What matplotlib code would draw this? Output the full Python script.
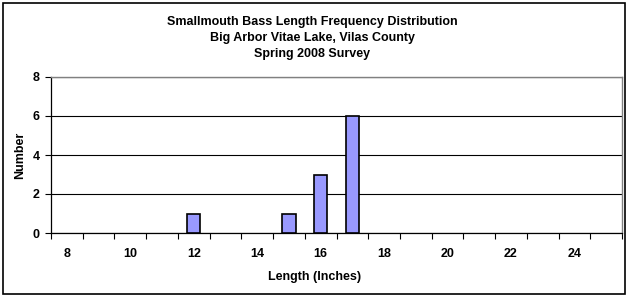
import matplotlib
matplotlib.use("Agg")
import matplotlib.pyplot as plt
import numpy as np

lengths = list(range(8, 26))
counts = [0, 0, 0, 0, 1, 0, 0, 1, 3, 6, 0, 0, 0, 0, 0, 0, 0, 0]
tick_labels = ["8", "10", "12", "14", "16", "18", "20", "22", "24"]
title = "Smallmouth Bass Length Frequency Distribution\nBig Arbor Vitae Lake, Vilas County\nSpring 2008 Survey"

plt.rcParams['font.family'] = ['Liberation Sans', 'DejaVu Sans']
plt.rcParams['font.weight'] = 'bold'

W, H = 628, 297
fig = plt.figure(figsize=(W/100, H/100), dpi=100)
ax = fig.add_axes([51/W, 1-233/H, (622-51)/W, (233-77)/H])

x = np.arange(len(lengths))
lws = [1.2 if c > 0 else 0 for c in counts]
ax.bar(x, counts, width=0.42, color='#9999FF', edgecolor='black', linewidth=lws, zorder=3)

ax.set_xlim(-0.5, len(lengths)-0.5)
ax.set_ylim(0, 8)
ax.set_yticks([0, 2, 4, 6, 8])
ax.set_yticklabels(['0', '2', '4', '6', '8'], fontsize=9, fontweight='bold')
ax.yaxis.grid(True, color='black', linewidth=0.8, zorder=0)

lab_pos = [lengths.index(int(t)) for t in tick_labels]
ax.set_xticks(lab_pos)
ax.set_xticklabels(tick_labels, fontsize=9, fontweight='bold')
ax.tick_params(axis='x', length=0, pad=11)
ax.set_xticks(np.arange(len(lengths)+1) - 0.5, minor=True)
ax.tick_params(axis='x', which='minor', length=4, width=0.8, color='black', direction='out')
ax.tick_params(axis='y', length=4, width=0.8, direction='out', pad=4)

for s in ['top', 'right']:
    ax.spines[s].set_color('#808080')
    ax.spines[s].set_linewidth(1.0)
for s in ['left', 'bottom']:
    ax.spines[s].set_color('black')
    ax.spines[s].set_linewidth(0.9)

fig.text(312/W, 1-38/H, title, ha='center', va='center', fontsize=9, fontweight='bold',
         linespacing=1.4)
fig.text(315/W, 1-277/H, "Length (Inches)", ha='center', va='center', fontsize=9, fontweight='bold')
fig.text(20/W, 1-155/H, "Number", ha='center', va='center', rotation=90, fontsize=9, fontweight='bold')

border = plt.Rectangle((3/W, 3/H), (W-6)/W, (H-6)/H, transform=fig.transFigure,
                       fill=False, edgecolor='black', linewidth=1.2)
fig.add_artist(border)

fig.savefig("out.png", dpi=100)
